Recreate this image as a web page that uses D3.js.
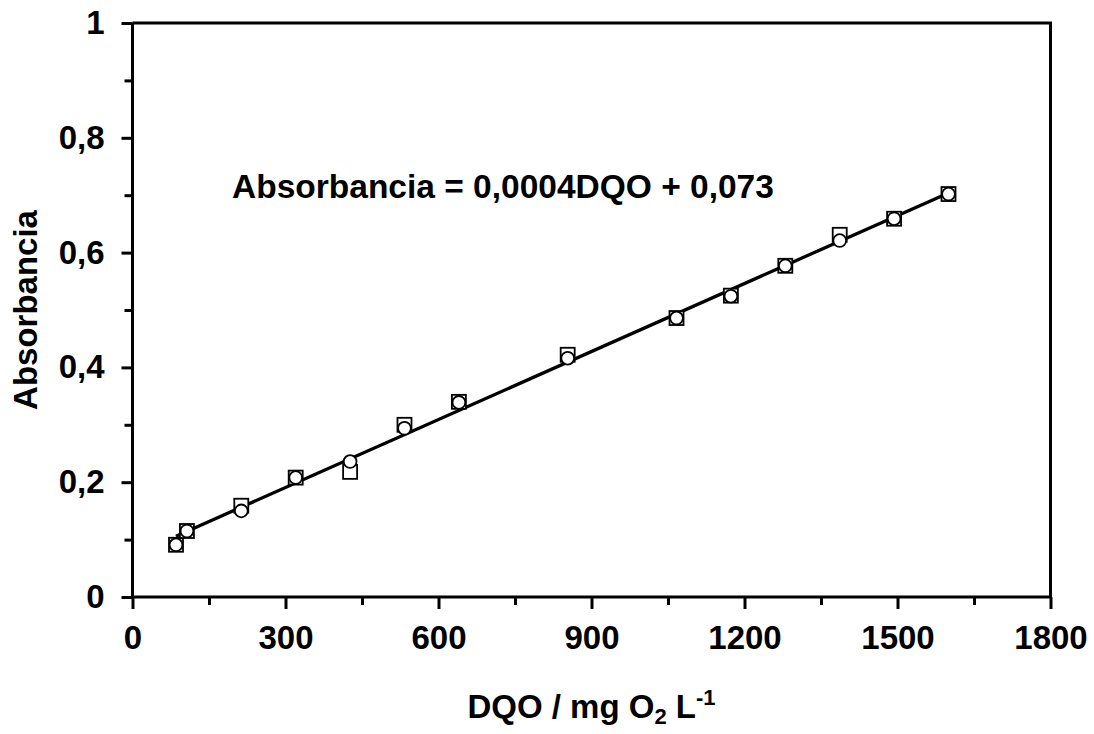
<!DOCTYPE html>
<html>
<head>
<meta charset="utf-8">
<script src="https://cdn.jsdelivr.net/npm/d3@7"></script>
<style>
html,body{margin:0;padding:0;background:#fff;}
svg{display:block;}
text{font-family:"Liberation Sans",Arial,sans-serif;font-weight:bold;fill:#000;}
</style>
</head>
<body>
<svg id="chart" width="1094" height="734"></svg>
<script>
// ---- data ----
const dqo = [85.3, 106.7, 213.3, 320, 426.7, 533.3, 640, 853.3, 1066.7, 1173.3, 1280, 1386.7, 1493.3, 1600];
const absSquares = [0.091, 0.115, 0.159, 0.208, 0.218, 0.300, 0.340, 0.422, 0.486, 0.525, 0.577, 0.631, 0.659, 0.702];
const absCircles = [0.091, 0.115, 0.150, 0.208, 0.236, 0.294, 0.339, 0.416, 0.486, 0.524, 0.577, 0.621, 0.659, 0.702];
const xMajorTicks = [0, 300, 600, 900, 1200, 1500, 1800];
const xTickLabels = ["0", "300", "600", "900", "1200", "1500", "1800"];
const xMinorTicks = [150, 450, 750, 1050, 1350, 1650];
const yMajorTicks = [0, 0.2, 0.4, 0.6, 0.8, 1];
const yTickLabels = ["0", "0,2", "0,4", "0,6", "0,8", "1"];
const yMinorTicks = [0.1, 0.3, 0.5, 0.7, 0.9];
const equationText = "Absorbancia = 0,0004DQO + 0,073";
const xTitle = "DQO / mg O";
const yTitle = "Absorbancia";

// ---- layout ----
const L = 132.5, R = 1050.5, T = 23, B = 597;
const svg = d3.select("#chart");
const x = d3.scaleLinear().domain([0, 1800]).range([L, R]);
const y = d3.scaleLinear().domain([0, 1]).range([B, T]);
const FS = 33;

// frame (top & right)
svg.append("path")
  .attr("d", `M${L},${T}H${R}V${B}`)
  .attr("fill", "none").attr("stroke", "#000").attr("stroke-width", 3);

// x axis
const xAxis = svg.append("g").attr("transform", `translate(0,${B})`)
  .call(d3.axisBottom(x).tickValues(xMajorTicks).tickSize(12).tickPadding(17)
    .tickFormat((d, i) => xTickLabels[i]));
xAxis.select(".domain").attr("stroke-width", 3).attr("d", `M${L},0H${R}`);
xAxis.selectAll(".tick line").attr("stroke-width", 3);
xAxis.selectAll(".tick text").attr("font-size", FS).attr("font-family", null);
svg.append("g").attr("transform", `translate(0,${B})`)
  .call(d3.axisBottom(x).tickValues(xMinorTicks).tickSize(8).tickFormat(""))
  .call(g => g.select(".domain").remove())
  .selectAll(".tick line").attr("stroke-width", 3);

// y axis
const yAxis = svg.append("g").attr("transform", `translate(${L},0)`)
  .call(d3.axisLeft(y).tickValues(yMajorTicks).tickSize(11).tickPadding(17)
    .tickFormat((d, i) => yTickLabels[i]));
yAxis.select(".domain").attr("stroke-width", 3).attr("d", `M0,${B}V${T}`);
yAxis.selectAll(".tick line").attr("stroke-width", 3);
yAxis.selectAll(".tick text").attr("font-size", FS).attr("font-family", null);
svg.append("g").attr("transform", `translate(${L},0)`)
  .call(d3.axisLeft(y).tickValues(yMinorTicks).tickSize(8).tickFormat(""))
  .call(g => g.select(".domain").remove())
  .selectAll(".tick line").attr("stroke-width", 3);

// regression line from data (least squares on both series)
const allX = dqo.concat(dqo), allY = absSquares.concat(absCircles);
const mx = d3.mean(allX), my = d3.mean(allY);
const slope = d3.sum(allX, (v, i) => (v - mx) * (allY[i] - my)) / d3.sum(allX, v => (v - mx) * (v - mx));
const intercept = my - slope * mx;
const xExt = d3.extent(dqo);
svg.append("path")
  .datum(xExt)
  .attr("d", d3.line().x(d => x(d)).y(d => y(slope * d + intercept)))
  .attr("stroke", "#000").attr("stroke-width", 3.3).attr("fill", "none");

// squares
const sq = 14;
svg.append("g").selectAll("rect").data(dqo).join("rect")
  .attr("x", (d) => x(d) - sq / 2)
  .attr("y", (d, i) => y(absSquares[i]) - sq / 2)
  .attr("width", sq).attr("height", sq)
  .attr("fill", "#fff").attr("stroke", "#000").attr("stroke-width", 1.8);
// circles
svg.append("g").selectAll("circle").data(dqo).join("circle")
  .attr("cx", d => x(d))
  .attr("cy", (d, i) => y(absCircles[i]))
  .attr("r", 6.4)
  .attr("fill", "#fff").attr("stroke", "#000").attr("stroke-width", 1.8);

// equation
svg.append("text").attr("x", 232).attr("y", 198).attr("font-size", 33.5).text(equationText);

// y title
svg.append("text")
  .attr("transform", `translate(37,${(T + B) / 2}) rotate(-90)`)
  .attr("text-anchor", "middle").attr("font-size", FS).text(yTitle);

// x title with sub/superscript
const xt = svg.append("text").attr("x", (L + R) / 2).attr("y", 718)
  .attr("text-anchor", "middle").attr("font-size", FS);
xt.append("tspan").text(xTitle);
xt.append("tspan").attr("font-size", 22).attr("dy", 6).text("2");
xt.append("tspan").attr("dy", -6).text(" L");
xt.append("tspan").attr("font-size", 22).attr("dy", -13).text("-1");
</script>
</body>
</html>
